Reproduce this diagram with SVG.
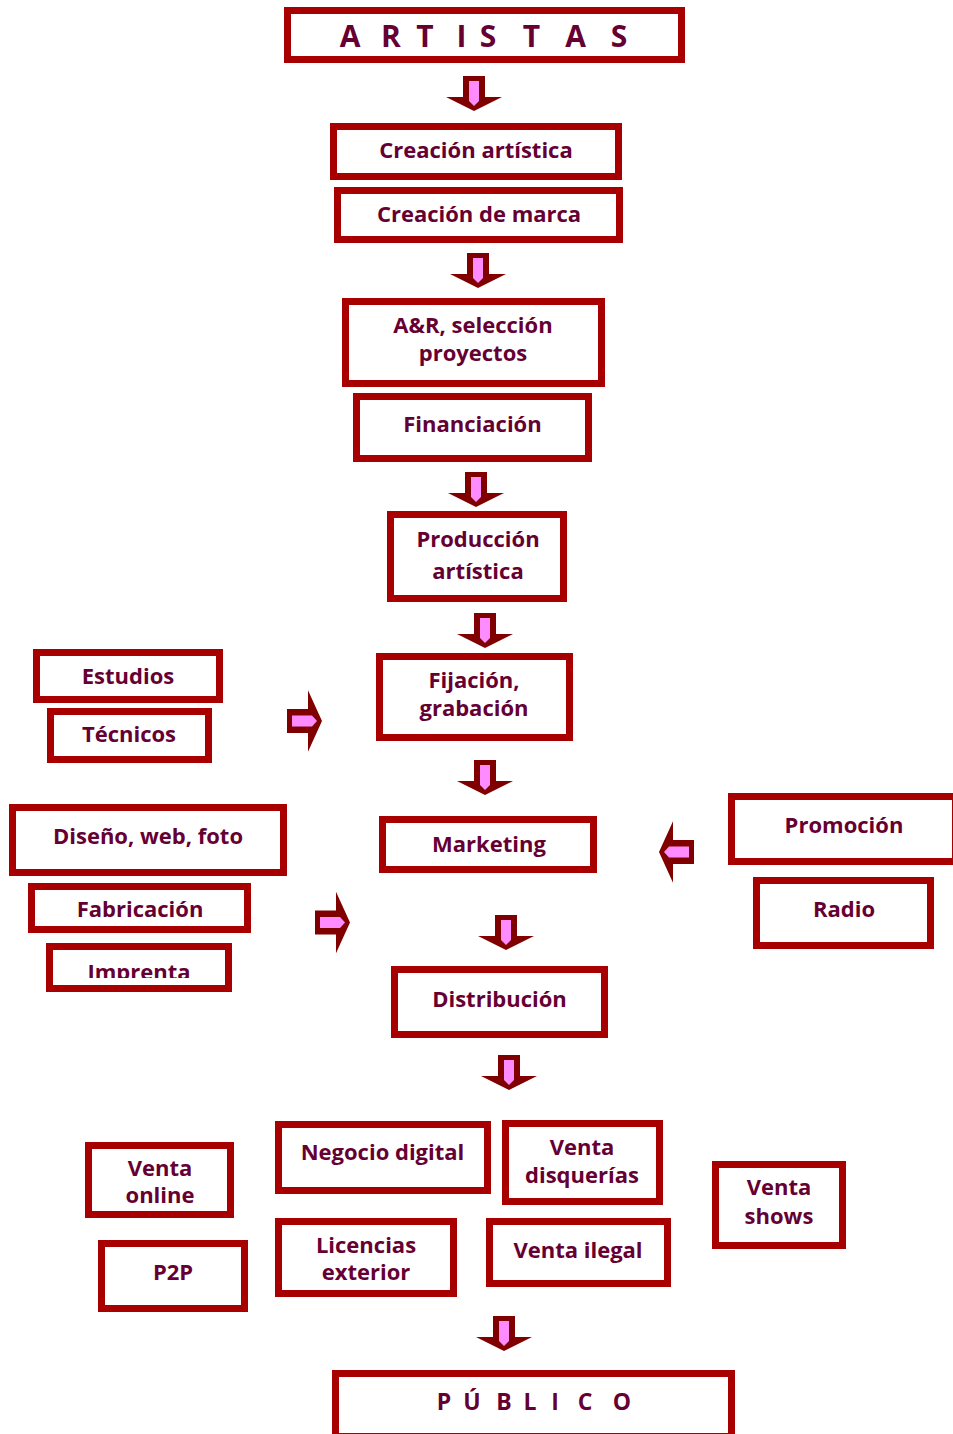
<svg xmlns="http://www.w3.org/2000/svg" xmlns:xlink="http://www.w3.org/1999/xlink" width="953" height="1434" viewBox="0 0 953 1434">
<style>
.box{fill:#ffffff;stroke:#a80000;stroke-width:7}
.t{font-family:"Open Sans",Lato,"Liberation Sans",sans-serif;font-weight:bold;font-size:22px;fill:#660033;text-anchor:middle}
.big{font-size:30px}
.pub{font-size:23px}
</style>
<defs>
<g id="ad">
<polygon points="-11,0 11,0 11,21 28,21 0,35 -28,21 -11,21" fill="#800000"/>
<polygon points="-5,5 5,5 5,25 0,30 -5,25" fill="#ff8cff"/>
</g>
<clipPath id="clipImp"><rect x="40" y="940" width="200" height="38"/></clipPath>
</defs>
<rect width="953" height="1434" fill="#ffffff"/>

<g id="n-artistas"><rect class="box" x="287.5" y="10.5" width="394" height="49"/>
<text class="t big" y="47" x="350 391 425 461.5 488 531.5 575.5 619">ARTISTAS</text></g>
<g id="n-creacion-artistica"><rect class="box" x="333.5" y="126.5" width="285" height="50"/><text class="t" x="476" y="158">Creación artística</text></g>
<g id="n-creacion-marca"><rect class="box" x="337.5" y="190.5" width="282" height="49"/><text class="t" x="479" y="222">Creación de marca</text></g>
<g id="n-ar"><rect class="box" x="345.5" y="301.5" width="256" height="82"/><text class="t" x="473" y="333">A&amp;R, selección</text><text class="t" x="473" y="361">proyectos</text></g>
<g id="n-financiacion"><rect class="box" x="356.5" y="396.5" width="232" height="62"/><text class="t" x="472.5" y="432">Financiación</text></g>
<g id="n-produccion"><rect class="box" x="390.5" y="514.5" width="173" height="84"/><text class="t" x="478" y="547">Producción</text><text class="t" x="478" y="579">artística</text></g>
<g id="n-fijacion"><rect class="box" x="379.5" y="656.5" width="190" height="81"/><text class="t" x="474" y="688">Fijación,</text><text class="t" x="474" y="716">grabación</text></g>
<g id="n-estudios"><rect class="box" x="36.5" y="652.5" width="183" height="47"/><text class="t" x="128" y="684">Estudios</text></g>
<g id="n-tecnicos"><rect class="box" x="50.5" y="711.5" width="158" height="48"/><text class="t" x="129" y="742">Técnicos</text></g>
<g id="n-diseno"><rect class="box" x="12.5" y="807.5" width="271" height="65"/><text class="t" x="148" y="844">Diseño, web, foto</text></g>
<g id="n-marketing"><rect class="box" x="382.5" y="819.5" width="211" height="50"/><text class="t" x="489" y="852">Marketing</text></g>
<g id="n-promocion"><rect class="box" x="731.5" y="796.5" width="224" height="65"/><text class="t" x="844" y="833">Promoción</text></g>
<g id="n-radio"><rect class="box" x="756.5" y="880.5" width="174" height="65"/><text class="t" x="844" y="917">Radio</text></g>
<g id="n-fabricacion"><rect class="box" x="31.5" y="886.5" width="216" height="43"/><text class="t" x="140" y="917">Fabricación</text></g>
<g id="n-imprenta"><rect class="box" x="49.5" y="946.5" width="179" height="42"/><text class="t" x="139" y="980" clip-path="url(#clipImp)">Imprenta</text></g>
<g id="n-distribucion"><rect class="box" x="394.5" y="969.5" width="210" height="65"/><text class="t" x="499.5" y="1007">Distribución</text></g>
<g id="n-venta-online"><rect class="box" x="88.5" y="1145.5" width="142" height="69"/><text class="t" x="160" y="1176">Venta</text><text class="t" x="160" y="1203">online</text></g>
<g id="n-negocio-digital"><rect class="box" x="278.5" y="1124.5" width="209" height="66"/><text class="t" x="382.5" y="1160">Negocio digital</text></g>
<g id="n-p2p"><rect class="box" x="101.5" y="1243.5" width="143" height="65"/><text class="t" x="173" y="1280">P2P</text></g>
<g id="n-licencias"><rect class="box" x="278.5" y="1221.5" width="175" height="72"/><text class="t" x="366" y="1253">Licencias</text><text class="t" x="366" y="1280">exterior</text></g>
<g id="n-venta-disquerias"><rect class="box" x="505.5" y="1123.5" width="154" height="78"/><text class="t" x="582" y="1155">Venta</text><text class="t" x="582" y="1183">disquerías</text></g>
<g id="n-venta-ilegal"><rect class="box" x="489.5" y="1221.5" width="178" height="62"/><text class="t" x="578" y="1258">Venta ilegal</text></g>
<g id="n-venta-shows"><rect class="box" x="715.5" y="1164.5" width="127" height="81"/><text class="t" x="779" y="1195">Venta</text><text class="t" x="779" y="1224">shows</text></g>
<g id="n-publico"><rect class="box" x="335.5" y="1373.5" width="396" height="63"/>
<text class="t pub" y="1410" x="444 472 504 530 555 585 622">PÚBLICO</text></g>

<g id="connectors">
<use xlink:href="#ad" transform="translate(474,76)"/>
<use xlink:href="#ad" transform="translate(478,253)"/>
<use xlink:href="#ad" transform="translate(476,472)"/>
<use xlink:href="#ad" transform="translate(485,613)"/>
<use xlink:href="#ad" transform="translate(485,760)"/>
<use xlink:href="#ad" transform="translate(506,915)"/>
<use xlink:href="#ad" transform="translate(509,1055)"/>
<use xlink:href="#ad" transform="translate(504,1316)"/>
<use xlink:href="#ad" transform="translate(287,721) rotate(-90) scale(1.1,1)"/>
<use xlink:href="#ad" transform="translate(315,922.5) rotate(-90) scale(1.1,1)"/>
<use xlink:href="#ad" transform="translate(694,852) rotate(90) scale(1.1,1)"/>
</g>
</svg>
